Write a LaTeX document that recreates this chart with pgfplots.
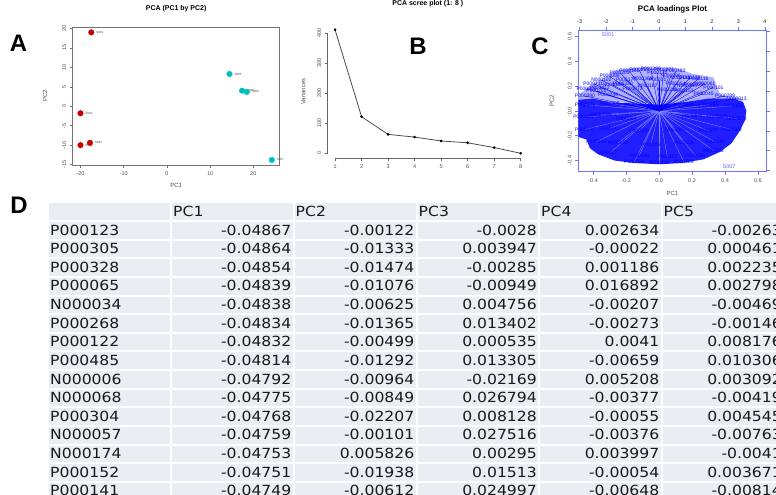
\documentclass[border=0pt]{standalone}
\usepackage{pgfplots}
\pgfplotsset{compat=1.18}
\usepackage{pgfplotstable}
\usepackage{fontspec}
\setmainfont{Liberation Sans}
\newfontfamily\tabfont[FakeStretch=1.12]{DejaVu Sans}
\usetikzlibrary{arrows.meta}

\definecolor{pcared}{RGB}{205,0,0}
\definecolor{pcacyan}{RGB}{0,190,190}
\definecolor{tblbg}{RGB}{233,237,244}
\colorlet{ldbox}{blue!55}

% loadings (upper fan, arrows visible)
\pgfplotstableread{
name x y
P000325 -0.44 0.18
P000211 -0.40 0.22
N000102 -0.35 0.25
P000098 -0.30 0.28
P000305 -0.24 0.31
P000141 -0.18 0.32
P000263 -0.12 0.33
P000206 -0.05 0.34
P000131 -0.01 0.31
P000271 0.03 0.33
P000482 0.10 0.32
N000118 0.13 0.27
P000138 0.19 0.27
P000116 0.24 0.26
P000422 0.21 0.21
N000061 0.28 0.22
P000054 0.10 0.22
P000017 0.00 0.25
P000369 -0.10 0.26
P000177 -0.20 0.25
N000088 -0.28 0.21
P000201 -0.38 0.16
P000390 -0.45 0.12
P000072 -0.16 0.18
N000219 0.05 0.17
P000153 0.15 0.16
P000045 0.27 0.14
P000289 0.40 0.12
N000013 0.47 0.10
P000244 -0.31 0.13
P000101 0.33 0.19
P000187 -0.07 0.20
N000145 0.17 0.20
P000330 -0.22 0.22
N000096 0.07 0.28
P000412 -0.36 0.19
}\upfan

% loadings (dense band and lower half)
\pgfplotstableread{
name x y
P000123 -0.45 0.05
P000305 -0.30 0.06
P000328 -0.15 0.05
P000065 0.00 0.04
N000034 0.15 0.05
P000268 0.30 0.05
P000122 0.45 0.04
P000485 -0.46 -0.05
N000006 -0.35 -0.03
N000068 -0.20 -0.06
P000304 0.20 -0.04
N000057 0.35 -0.05
N000174 0.47 -0.06
P000152 -0.45 -0.15
P000141 -0.30 -0.14
P000310 -0.12 -0.16
N000021 0.10 -0.15
P000277 0.30 -0.16
P000089 0.44 -0.15
P000165 -0.38 -0.25
N000140 -0.25 -0.26
P000033 -0.05 -0.27
P000118 0.15 -0.26
P000240 0.34 -0.25
N000077 -0.30 -0.34
P000196 -0.12 -0.36
P000412 0.05 -0.37
P000165 0.22 -0.36
N000203 0.33 -0.32
P000058 -0.15 -0.41
P000470 0.00 -0.42
P000229 0.15 -0.41
}\lowfan

\pgfplotsset{
  rplot/.style={
    scale only axis, anchor=south west, tick align=outside, major tick length=3bp,
    /pgf/number format/assume math mode=true,
    ticklabel style={font=\fontsize{5.5}{6}\selectfont, text=black!70},
    yticklabel style={rotate=90, anchor=south},
    label style={font=\fontsize{6}{7}\selectfont, text=black!70, anchor=center},
    title style={font=\fontsize{7}{8}\selectfont\bfseries, anchor=center},
  },
}

\begin{document}
\begin{tikzpicture}
\useasboundingbox (0,0) rectangle (776bp,495bp);
\clip (0,0) rectangle (776bp,495bp);

% ---------- A: scores ----------
\begin{axis}[rplot, at={(72.7bp,330bp)}, width=206.9bp, height=137.7bp,
  xmin=-21.8, xmax=26.1, ymin=-15.1, ymax=20.3,
  xtick={-20,-10,0,10,20}, ytick={-15,-10,-5,0,5,10,15,20},
  xtick pos=left, ytick pos=left,
  axis line style={black!55, line width=0.7bp}, tick style={black!55, line width=0.6bp},
  title={PCA (PC1 by PC2)}, title style={at={(0.5,1.089)}},
  xlabel={PC1}, xlabel style={at={(axis description cs:0.5,-0.145)}},
  ylabel={PC2}, ylabel style={at={(axis description cs:-0.134,0.5)}},
  point meta=explicit symbolic, nodes near coords,
  nodes near coords style={font=\fontsize{3}{3}\selectfont, text=black!70, anchor=west, xshift=1.5bp},
]
\addplot[only marks, mark=*, mark size=2.8bp, pcared] coordinates {
  (-17.5,19)[S001] (-20,-1.8)[S002] (-20,-10)[S003] (-17.8,-9.4)[S004]};
\addplot[only marks, mark=*, mark size=2.8bp, pcacyan] coordinates {
  (14.5,8.3)[S005] (17.4,4)[S006] (18.5,3.7)[S008] (24.3,-13.8)[S007]};
\end{axis}

% ---------- B: scree ----------
\begin{axis}[rplot, at={(327.6bp,336.7bp)}, width=200.5bp, height=133.4bp,
  xmin=0.72, xmax=8.28, ymin=-16.7, ymax=428,
  axis x line*=bottom, axis y line*=left, axis line style={draw=none, -},
  xtick={1,...,8}, ytick={0,100,200,300,400},
  tick style={black!60, line width=0.6bp},
  title={PCA scree plot (1: 8 )}, title style={at={(0.5,1.112)}},
  ylabel={Variances}, ylabel style={at={(axis description cs:-0.121,0.5)}},
  clip=false,
]
\draw[black!60, line width=0.7bp] (axis cs:1,-16.7) -- (axis cs:8,-16.7);
\draw[black!60, line width=0.7bp] (axis cs:0.72,0) -- (axis cs:0.72,400);
\addplot[black!70, line width=0.8bp, mark=*, mark size=0.9bp, mark options={fill=black, draw=black}]
  coordinates {(1,412) (2,122) (3,63) (4,54) (5,41) (6,35) (7,19) (8,0)};
\end{axis}

% ---------- C: loadings biplot ----------
\begin{axis}[rplot, at={(578.3bp,323.3bp)}, width=188.4bp, height=141.7bp,
  xmin=-0.49, xmax=0.653, ymin=-0.49, ymax=0.653,
  xtick={-0.4,-0.2,0,0.2,0.4,0.6}, xticklabels={-0.4,-0.2,0.0,0.2,0.4,0.6},
  ytick={-0.4,-0.2,0,0.2,0.4,0.6}, yticklabels={-0.4,-0.2,0.0,0.2,0.4,0.6},
  xtick pos=left, ytick pos=left,
  axis line style={ldbox, line width=0.7bp}, tick style={ldbox, line width=0.6bp},
  title={PCA loadings Plot}, title style={font=\fontsize{8}{9}\selectfont\bfseries, text=black, at={(0.5,1.106)}},
  xlabel={PC1}, xlabel style={at={(axis description cs:0.5,-0.152)}},
  ylabel={PC2}, ylabel style={at={(axis description cs:-0.141,0.5)}},
]
% lighter area of the upper fan
\addplot[draw=none, fill=blue!30] coordinates {
  (-0.49,0.08) (-0.49,0.13) (-0.42,0.20) (-0.32,0.28) (-0.26,0.33) (-0.12,0.35)
  (0.10,0.35) (0.20,0.30) (0.33,0.27) (0.37,0.13) (0.50,0.10) (0.52,0.04)} -- cycle;
% dense band
\addplot[draw=none, fill=blue!88] coordinates {
  (-0.49,0.09) (-0.40,0.10) (-0.30,0.07) (-0.15,0.06) (0.00,0.05) (0.15,0.07)
  (0.30,0.10) (0.45,0.10) (0.51,0.07) (0.53,0.00) (0.52,-0.08) (0.49,-0.16)
  (0.44,-0.26) (0.37,-0.33) (0.27,-0.39) (0.14,-0.42) (0.00,-0.43) (-0.15,-0.42)
  (-0.27,-0.40) (-0.37,-0.35) (-0.42,-0.30) (-0.44,-0.23) (-0.49,-0.21)} -- cycle;
\addplot[blue!45, line width=0.35bp, quiver={u=\thisrow{x}, v=\thisrow{y}}]
  table[x expr=0, y expr=0] \lowfan;
\addplot[blue, line width=0.35bp, quiver={u=\thisrow{x}, v=\thisrow{y}},
  -{Latex[length=1.3bp, width=1.1bp]}] table[x expr=0, y expr=0] \upfan;
\addplot[draw=none, point meta=explicit symbolic, nodes near coords,
  nodes near coords style={font=\fontsize{5}{5}\selectfont, text=blue, anchor=center}]
  table[x=x, y=y, meta=name] \upfan;
\addplot[draw=none, point meta=explicit symbolic, nodes near coords,
  nodes near coords style={font=\fontsize{5}{5}\selectfont, text=blue, anchor=center}]
  table[x=x, y=y, meta=name] \lowfan;
\end{axis}
\begin{axis}[rplot, at={(578.3bp,323.3bp)}, width=188.4bp, height=141.7bp,
  xmin=-3.05, xmax=4.07, ymin=-3.05, ymax=4.07,
  axis x line*=top, axis y line*=right, axis line style={draw=none, -},
  xtick={-3,...,4}, ytick={-3,...,4}, yticklabels={},
  tick style={ldbox, line width=0.6bp}, xticklabel style={text=black!85},
]
\addplot[draw=none, point meta=explicit symbolic, nodes near coords,
  nodes near coords style={font=\fontsize{5.5}{6}\selectfont, text=blue!60, anchor=center}]
  coordinates {(-1.93,3.82)[S001] (2.65,-2.8)[S007]};
\end{axis}

% ---------- D: table ----------
\begin{scope}[x=1bp, y=1bp]
\fill[tblbg] (49,0) rectangle (790,292);
\foreach \vx in {171,293.5,416.5,539,661.5}
  \draw[white, line width=2bp] (\vx,0) -- (\vx,292);
\foreach \k in {0,...,14}
  \draw[white, line width=2bp] (49,274-18.63*\k) -- (790,274-18.63*\k);
\begin{scope}[font=\tabfont\fontsize{14}{16}\selectfont, text=black!90, every node/.style={inner sep=0}]
\node[anchor=base west] at (173,278.3) {PC1};
\node[anchor=base west] at (295.5,278.3) {PC2};
\node[anchor=base west] at (418.5,278.3) {PC3};
\node[anchor=base west] at (541,278.3) {PC4};
\node[anchor=base west] at (663.5,278.3) {PC5};
\foreach \r/\a/\b/\c/\d/\e [count=\i] in {
  P000123/-0.04867/-0.00122/-0.0028/0.002634/-0.00263,
  P000305/-0.04864/-0.01333/0.003947/-0.00022/0.000461,
  P000328/-0.04854/-0.01474/-0.00285/0.001186/0.002235,
  P000065/-0.04839/-0.01076/-0.00949/0.016892/0.002798,
  N000034/-0.04838/-0.00625/0.004756/-0.00207/-0.00469,
  P000268/-0.04834/-0.01365/0.013402/-0.00273/-0.00146,
  P000122/-0.04832/-0.00499/0.000535/0.0041/0.008176,
  P000485/-0.04814/-0.01292/0.013305/-0.00659/0.010306,
  N000006/-0.04792/-0.00964/-0.02169/0.005208/0.003092,
  N000068/-0.04775/-0.00849/0.026794/-0.00377/-0.00419,
  P000304/-0.04768/-0.02207/0.008128/-0.00055/0.004545,
  N000057/-0.04759/-0.00101/0.027516/-0.00376/-0.00763,
  N000174/-0.04753/0.005826/0.00295/0.003997/-0.0041,
  P000152/-0.04751/-0.01938/0.01513/-0.00054/0.003671,
  P000141/-0.04749/-0.00612/0.024997/-0.00648/-0.00814}{
  \pgfmathsetmacro\yy{260-18.63*(\i-1)}
  \node[anchor=base west] at (50,\yy) {\r};
  \node[anchor=base east] at (291.5,\yy) {\a};
  \node[anchor=base east] at (414.5,\yy) {\b};
  \node[anchor=base east] at (537,\yy) {\c};
  \node[anchor=base east] at (659.5,\yy) {\d};
  \node[anchor=base east] at (782,\yy) {\e};
}
\end{scope}

% panel letters
\begin{scope}[font=\fontsize{24}{24}\selectfont\bfseries]
\node at (18.5,452) {A};
\node at (418,448.3) {B};
\node at (540,449) {C};
\node at (19,290) {D};
\end{scope}
\end{scope}
\end{tikzpicture}
\end{document}
